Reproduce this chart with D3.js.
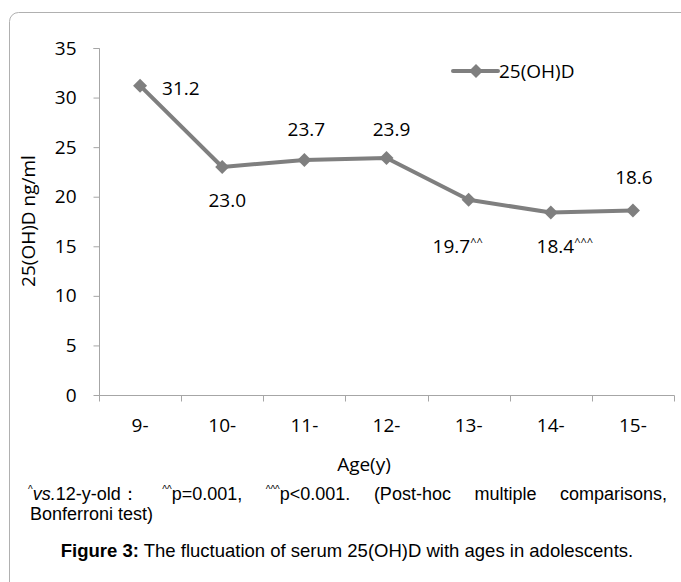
<!DOCTYPE html>
<html lang="en">
<head>
    <meta charset="UTF-8">
    <title>25(OH)D by age</title>
    <script src="https://cdn.jsdelivr.net/npm/d3@7"></script>
    <style>
        body { margin: 0; background: #fff; }
        svg text { fill: #000; }
    </style>
</head>
<body>
<script>
    // chart data
    var ages = ["9-", "10-", "11-", "12-", "13-", "14-", "15-"];
    var vitD = [31.2, 23.0, 23.7, 23.9, 19.7, 18.4, 18.6];
    var marks = ["", "", "", "", "^^", "^^^", ""];
    var labelPlace = ["right", "below", "above", "above", "below", "below", "above"];
    var yTicks = [0, 5, 10, 15, 20, 25, 30, 35];
    var seriesName = "25(OH)D";

    // hand placed label shifts (px), as in the original figure
    var labelNudge = [[0, 0], [5, 0], [2, -3], [5, -1], [-11, 13], [14, 0], [1, -6]];

    var W = 681, H = 582;
    var chartFont = "'Open Sans', 'Noto Sans', sans-serif";
    var noteFont = "'Liberation Sans', Arial, sans-serif";
    var grey = "#7f7f7f", axisGrey = "#a6a6a6";

    var svg = d3.select("body").append("svg")
        .attr("width", W)
        .attr("height", H);

    // outer frame (runs off the right/bottom edge)
    svg.append("rect")
        .attr("x", 9.5).attr("y", 12.5)
        .attr("width", 720).attr("height", 620)
        .attr("rx", 9)
        .attr("fill", "none")
        .attr("stroke", "#b0b0b0");

    var x = d3.scaleBand().domain(ages).range([99, 674]).padding(0);
    var y = d3.scaleLinear().domain([0, 35]).range([395, 48]);

    // y axis
    var yAxis = svg.append("g")
        .attr("transform", "translate(99.5,0)")
        .call(d3.axisLeft(y).tickValues(yTicks).tickSize(6).tickPadding(17));
    yAxis.select(".domain").attr("stroke", axisGrey).attr("d", "M-6," + (y(35) + 0.5) + "H0V" + (y(0) + 0.5));
    yAxis.selectAll(".tick line").attr("stroke", axisGrey);
    yAxis.selectAll(".tick text")
        .style("font-family", chartFont).style("font-size", "19px").attr("fill", "#000");

    // x axis, ticks on category boundaries
    var xAxis = svg.append("g").attr("transform", "translate(0," + (y(0) + 0.5) + ")");
    xAxis.append("line")
        .attr("x1", 99).attr("x2", 674.5)
        .attr("stroke", axisGrey);
    var bounds = ages.map(function(a) { return x(a); }).concat([x.range()[1]]);
    xAxis.selectAll(".xt").data(bounds).enter().append("line")
        .attr("x1", function(d) { return Math.round(d) + 0.5; })
        .attr("x2", function(d) { return Math.round(d) + 0.5; })
        .attr("y1", 0).attr("y2", 6)
        .attr("stroke", axisGrey);
    xAxis.selectAll(".xl").data(ages).enter().append("text")
        .attr("x", function(d) { return x(d) + x.bandwidth() / 2; })
        .attr("y", 36)
        .attr("text-anchor", "middle")
        .style("font-family", chartFont).style("font-size", "19px")
        .text(function(d) { return d; });

    // axis titles
    svg.append("text")
        .attr("transform", "translate(35,221) rotate(-90)")
        .attr("text-anchor", "middle")
        .style("font-family", chartFont).style("font-size", "19px")
        .text("25(OH)D ng/ml");
    svg.append("text")
        .attr("x", 364).attr("y", 471)
        .attr("text-anchor", "middle")
        .style("font-family", chartFont).style("font-size", "19px")
        .text("Age(y)");

    // line + diamonds
    var pts = ages.map(function(a, i) {
        return {age: a, v: vitD[i], mark: marks[i], place: labelPlace[i], nudge: labelNudge[i]};
    });
    var cx = function(d) { return x(d.age) + x.bandwidth() / 2; };
    var line = d3.line().x(cx).y(function(d) { return y(d.v); });
    var diamond = "M0,-7L7,0L0,7L-7,0Z";

    svg.append("path")
        .datum(pts)
        .attr("d", line)
        .attr("fill", "none")
        .attr("stroke", grey)
        .attr("stroke-width", 4)
        .attr("stroke-linejoin", "round");
    svg.selectAll(".pt").data(pts).enter().append("path")
        .attr("d", diamond)
        .attr("transform", function(d) { return "translate(" + cx(d) + "," + y(d.v) + ")"; })
        .attr("fill", grey);

    // value labels
    var lab = svg.selectAll(".lab").data(pts).enter().append("text")
        .attr("x", function(d) { return (d.place == "right" ? cx(d) + 22 : cx(d)) + d.nudge[0]; })
        .attr("y", function(d) {
            var base = y(d.v) + 9;
            if (d.place == "above") base = y(d.v) - 21;
            if (d.place == "below") base = y(d.v) + 40;
            return base + d.nudge[1];
        })
        .attr("text-anchor", function(d) { return d.place == "right" ? "start" : "middle"; })
        .style("font-family", chartFont).style("font-size", "19px");
    lab.append("tspan").text(function(d) { return d.v.toFixed(1); });
    lab.append("tspan")
        .attr("dy", -7)
        .style("font-size", "11px")
        .text(function(d) { return d.mark; });

    // legend
    var leg = svg.append("g").attr("transform", "translate(453,71)");
    leg.append("line").attr("x1", 0).attr("x2", 45)
        .attr("stroke", grey).attr("stroke-width", 4).attr("stroke-linecap", "round");
    leg.append("path").attr("d", diamond).attr("transform", "translate(23,0)").attr("fill", grey);
    leg.append("text").attr("x", 46).attr("y", 7)
        .style("font-family", chartFont).style("font-size", "19px")
        .text(seriesName);

    // footnote, justified first line
    var noteWords = [
        [["^", "sup"], ["vs.", "it"], ["12-y-old：", ""]],
        [["^^", "sup"], ["p=0.001,", ""]],
        [["^^^", "sup"], ["p<0.001.", ""]],
        [["(Post-hoc", ""]],
        [["multiple", ""]],
        [["comparisons,", ""]]
    ];
    var noteLeft = 28, noteRight = 667;
    var words = noteWords.map(function(segs) {
        var t = svg.append("text").attr("y", 500)
            .style("font-family", noteFont).style("font-size", "18px");
        segs.forEach(function(s, k) {
            var ts = t.append("tspan").text(s[0]);
            if (s[1] == "sup") ts.attr("dy", -7).style("font-size", "10px");
            else if (k > 0 && segs[k - 1][1] == "sup") ts.attr("dy", 7);
            if (s[1] == "it") ts.style("font-style", "italic");
        });
        return t;
    });
    var widths = words.map(function(t) { return t.node().getComputedTextLength(); });
    var gap = (noteRight - noteLeft - d3.sum(widths)) / (words.length - 1);
    var xpos = noteLeft;
    words.forEach(function(t, i) { t.attr("x", xpos); xpos += widths[i] + gap; });

    svg.append("text")
        .attr("x", 30).attr("y", 520)
        .style("font-family", noteFont).style("font-size", "18px")
        .text("Bonferroni test)");

    var cap = svg.append("text")
        .attr("x", 347).attr("y", 557)
        .attr("text-anchor", "middle")
        .style("font-family", noteFont).style("font-size", "18.5px");
    cap.append("tspan").style("font-weight", "bold").text("Figure 3:");
    cap.append("tspan").text(" The fluctuation of serum 25(OH)D with ages in adolescents.");
</script>
</body>
</html>
